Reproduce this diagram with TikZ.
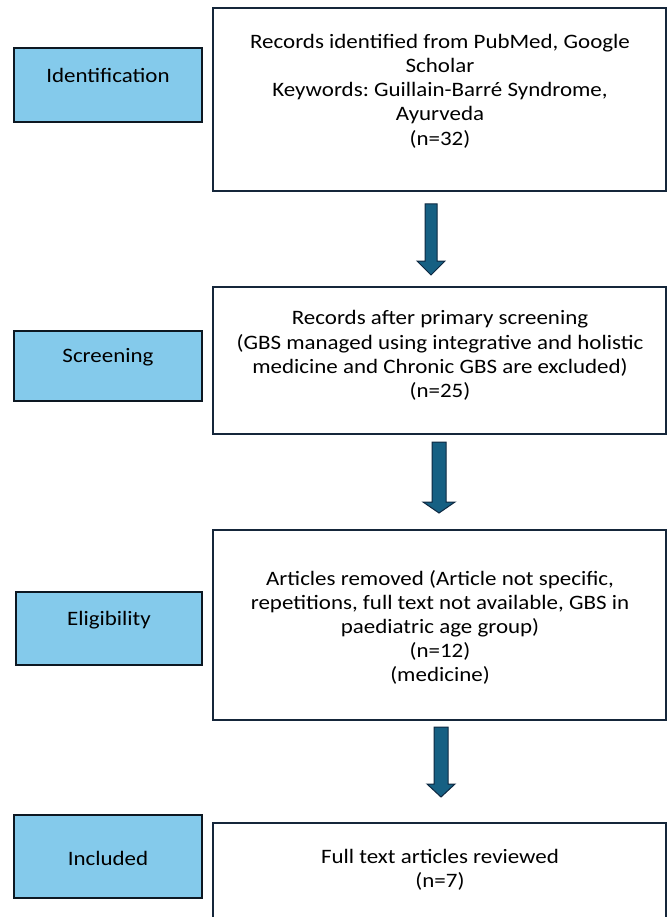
\documentclass[tikz,border=0pt]{standalone}
\usepackage{fontspec}
\setmainfont{Carlito}[FakeStretch=1.12]
\frenchspacing
\usetikzlibrary{calc}
\definecolor{lblue}{HTML}{84CAEB}
\definecolor{edgeL}{HTML}{0D1822}
\definecolor{edgeR}{HTML}{15263A}
\definecolor{arrfill}{HTML}{166083}
\definecolor{arredge}{HTML}{0E2841}
\tikzset{
 leftbox/.style={draw=edgeL, fill=lblue, line width=2.2pt, rectangle, inner sep=0pt, minimum width=188pt},
 rightbox/.style={draw=edgeR, line width=2pt, rectangle, inner sep=0pt, minimum width=453pt},
 txt/.style={font=\fontsize{20.5}{24.2}\selectfont, align=center, inner sep=0pt, text=black},
 blockarrow/.style={fill=arrfill, draw=arredge, line width=1pt, line join=miter}
}
\newcommand\blockarr[8]{%
 \path[blockarrow] let \p1=(#1.south), \p2=(#2.north) in
 ({#3pt-#6pt},{\y1-#4pt}) -- ({#3pt+#6pt},{\y1-#4pt}) -- ({#3pt+#6pt},{\y2+#5pt+#8pt}) -- ({#3pt+#7pt},{\y2+#5pt+#8pt}) -- (#3pt,{\y2+#5pt}) -- ({#3pt-#7pt},{\y2+#5pt+#8pt}) -- ({#3pt-#6pt},{\y2+#5pt+#8pt}) -- cycle;}
\begin{document}
\begin{tikzpicture}[x=1pt,y=-1pt]
\clip (0,0) rectangle (668,917);
\fill[white] (0,0) rectangle (668,917);
% left stage boxes
\node[leftbox, minimum height=74pt] (sid) at (108,85) {};
\node[txt] (tid) at (108,75) {Identification};
\node[leftbox, minimum height=70pt] (ssc) at (108,366) {};
\node[txt] (tsc) at (108,357) {Screening};
\node[leftbox, minimum height=73pt, minimum width=186pt] (sel) at (109,628.5) {};
\node[txt] (tel) at (109,620) {Eligibility};
\node[leftbox, minimum height=83pt] (sin) at (108,856.5) {};
\node[txt] (tin) at (108,858) {Included};
% right boxes
\node[rightbox, minimum height=183pt] (b1) at (439.5,99.5) {};
\node[txt] (t1) at (440,91) {Records identified from PubMed, Google\\Scholar\\Keywords: Guillain-Barré Syndrome,\\Ayurveda\\(n=32)};
\node[rightbox, minimum height=147pt] (b2) at (439.5,360.5) {};
\node[txt] (t2) at (440,355.5) {Records after primary screening\\(GBS managed using integrative and holistic\\medicine and Chronic GBS are excluded)\\(n=25)};
\node[rightbox, minimum height=190pt] (b3) at (439.5,625) {};
\node[txt] (t3) at (440,627.5) {Articles removed (Article not specific,\\repetitions, full text not available, GBS in\\paediatric age group)\\(n=12)\\(medicine)};
\node[rightbox, minimum height=110pt] (b4) at (439.5,878) {};
\node[txt] (t4) at (440,870) {Full text articles reviewed\\(n=7)};
% arrows
\blockarr{b1}{b2}{431}{12}{11}{6}{14}{14}
\blockarr{b2}{b3}{439}{7}{16}{7}{16}{11}
\blockarr{b3}{b4}{441}{6}{25}{7}{14}{13}
\end{tikzpicture}
\end{document}
